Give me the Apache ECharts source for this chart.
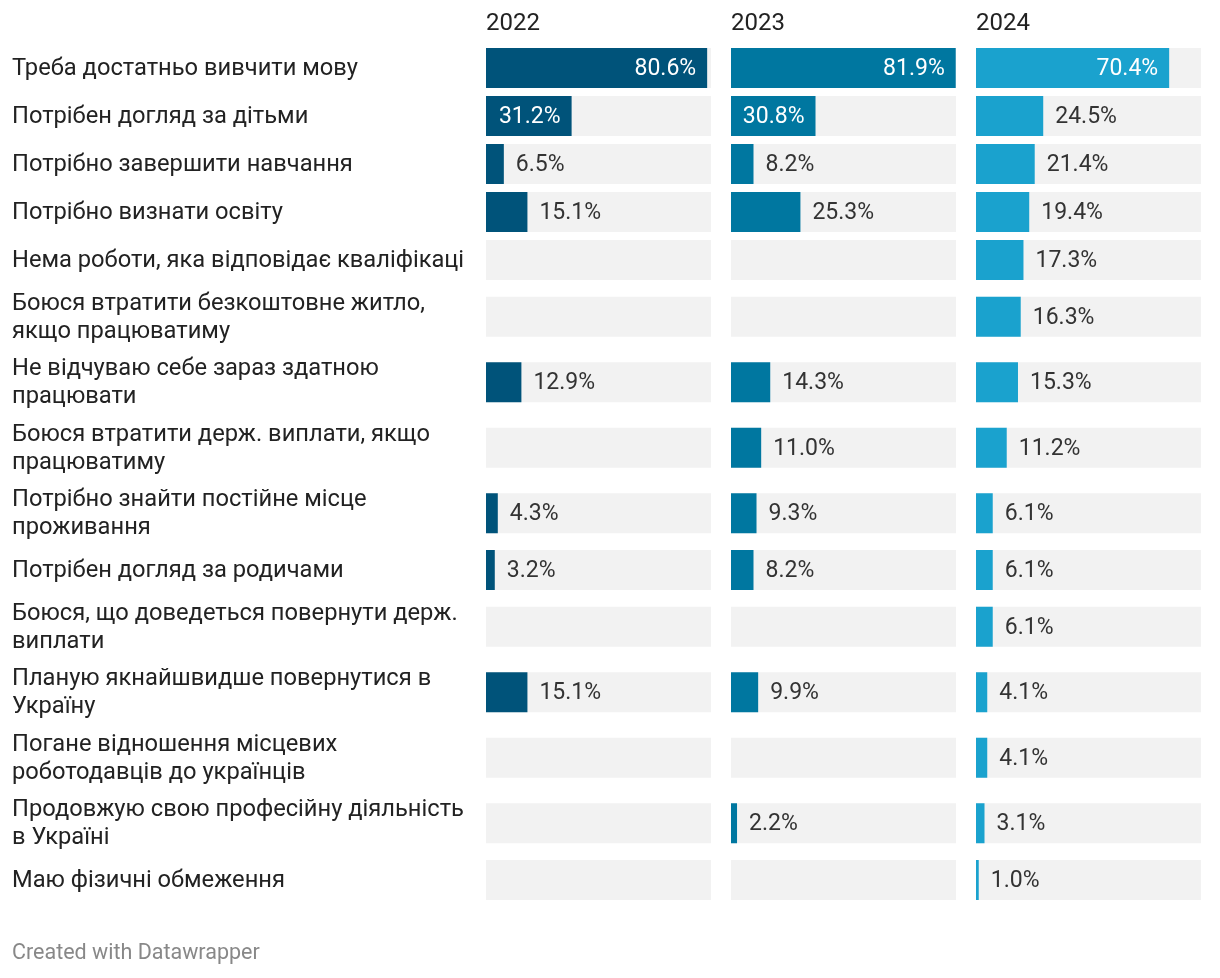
<!DOCTYPE html>
<html>
<head>
<meta charset="utf-8">
<script src="https://cdn.jsdelivr.net/npm/echarts@6/dist/echarts.min.js"></script>
<style>
html,body{margin:0;padding:0;background:#fff;}
#chart{width:1220px;height:978px;}
</style>
</head>
<body>
<div id="chart"></div>
<script>
const categories = [
  'Треба достатньо вивчити мову',
  'Потрібен догляд за дітьми',
  'Потрібно завершити навчання',
  'Потрібно визнати освіту',
  'Нема роботи, яка відповідає кваліфікаці',
  'Боюся втратити безкоштовне житло,\nякщо працюватиму',
  'Не відчуваю себе зараз здатною\nпрацювати',
  'Боюся втратити держ. виплати, якщо\nпрацюватиму',
  'Потрібно знайти постійне місце\nпроживання',
  'Потрібен догляд за родичами',
  'Боюся, що доведеться повернути держ.\nвиплати',
  'Планую якнайшвидше повернутися в\nУкраїну',
  'Погане відношення місцевих\nроботодавців до українців',
  'Продовжую свою професійну діяльність\nв Україні',
  'Маю фізичні обмеження'
];
const years = ['2022', '2023', '2024'];
const values2022 = [80.6, 31.2, 6.5, 15.1, null, null, 12.9, null, 4.3, 3.2, null, 15.1, null, null, null];
const values2023 = [81.9, 30.8, 8.2, 25.3, null, null, 14.3, 11.0, 9.3, 8.2, null, 9.9, null, 2.2, null];
const values2024 = [70.4, 24.5, 21.4, 19.4, 17.3, 16.3, 15.3, 11.2, 6.1, 6.1, 6.1, 4.1, 4.1, 3.1, 1.0];
const seriesValues = [values2022, values2023, values2024];
const colors = ['#00537a', '#0077a0', '#1aa2ce'];

// layout: row heights depend on number of label lines
const ROW1 = 48, ROW2 = 65.5, BAR_H = 40;
const rowHeights = categories.map(c => c.indexOf('\n') >= 0 ? ROW2 : ROW1);
const rowCenters = [];
let acc = 0;
rowHeights.forEach(h => { rowCenters.push(acc + h / 2); acc += h; });
const totalH = acc;
const GRID_TOP = 44, COL_LEFT = 486, COL_W = 225, COL_GAP = 20, XMAX = 82;

const FONT = 'Roboto, "Noto Sans", sans-serif';

const grids = [], xAxes = [], yAxes = [], series = [];
years.forEach((y, i) => {
  grids.push({left: COL_LEFT + i * (COL_W + COL_GAP), top: GRID_TOP, width: COL_W, height: totalH});
  xAxes.push({type: 'value', gridIndex: i, min: 0, max: XMAX, show: false});
  yAxes.push({type: 'value', gridIndex: i, min: 0, max: totalH, inverse: true, show: false});
  const vals = seriesValues[i];
  series.push({
    type: 'custom',
    xAxisIndex: i, yAxisIndex: i,
    data: vals.map((v, k) => [v === null ? 0 : v, rowCenters[k]]),
    renderItem: function (params, api) {
      const k = params.dataIndex;
      const v = vals[k];
      const p0 = api.coord([0, api.value(1)]);
      const p1 = api.coord([api.value(0), api.value(1)]);
      const cs = params.coordSys;
      const children = [{
        type: 'rect',
        shape: {x: p0[0], y: p0[1] - BAR_H / 2, width: cs.width, height: BAR_H},
        style: {fill: '#f2f2f2'}
      }];
      if (v !== null) {
        children.push({
          type: 'rect',
          shape: {x: p0[0], y: p0[1] - BAR_H / 2, width: Math.max(p1[0] - p0[0], 1.5), height: BAR_H},
          style: {fill: colors[i]}
        });
        const txt = v.toFixed(1) + '%';
        const inside = v >= 28;
        children.push({
          type: 'text',
          x: inside ? p1[0] - 11 : p1[0] + 12,
          y: p0[1] + 1,
          style: {
            text: txt,
            fill: inside ? '#ffffff' : '#333333',
            font: '23px ' + FONT,
            align: inside ? 'right' : 'left',
            verticalAlign: 'middle'
          }
        });
      }
      return {type: 'group', children: children};
    }
  });
});

// row labels
series.push({
  type: 'custom',
  xAxisIndex: 0, yAxisIndex: 0,
  data: categories.map((c, k) => [0, rowCenters[k]]),
  renderItem: function (params, api) {
    const p = api.coord([0, api.value(1)]);
    return {
      type: 'text',
      x: 12,
      y: p[1] + 1,
      style: {
        text: categories[params.dataIndex],
        fill: '#222222',
        font: '23.7px ' + FONT,
        lineHeight: 28,
        align: 'left',
        verticalAlign: 'middle'
      }
    };
  }
});

const graphics = years.map((y, i) => ({
  type: 'text',
  left: COL_LEFT + i * (COL_W + COL_GAP),
  top: 12,
  style: {text: y, fill: '#222222', font: '24px ' + FONT}
}));
graphics.push({
  type: 'text', left: 12, top: 943,
  style: {text: 'Created with Datawrapper', fill: '#888888', font: '21.5px ' + FONT}
});

const chart = echarts.init(document.getElementById('chart'), null, {renderer: 'canvas'});
chart.setOption({
  animation: false,
  backgroundColor: '#ffffff',
  grid: grids,
  xAxis: xAxes,
  yAxis: yAxes,
  graphic: graphics,
  series: series
});
</script>
</body>
</html>
